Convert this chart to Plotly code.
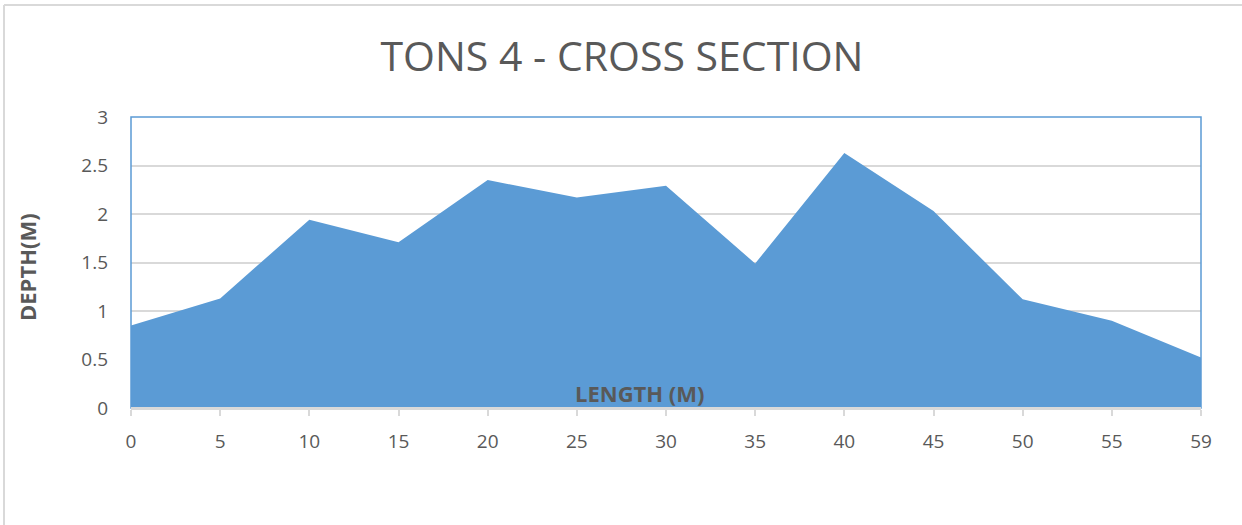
import plotly.graph_objects as go

categories = ["0", "5", "10", "15", "20", "25", "30", "35", "40", "45", "50", "55", "59"]
depth = [0.85, 1.13, 1.94, 1.71, 2.35, 2.17, 2.29, 1.49, 2.63, 2.03, 1.12, 0.90, 0.52]
y_ticks = [0, 0.5, 1, 1.5, 2, 2.5, 3]
y_tick_text = ["0", "0.5", "1", "1.5", "2", "2.5", "3"]

FILL = "#5b9bd5"
GRID = "#d9d9d9"
TXT = "#595959"
FONT = "Open Sans"

x_idx = list(range(len(categories)))

PW = 1070.0
PH = 291.0

fig = go.Figure()
fig.add_trace(go.Scatter(
    x=x_idx, y=depth, mode="lines", fill="tozeroy",
    fillcolor=FILL, line=dict(width=0, color=FILL), hoverinfo="skip",
    showlegend=False,
))

fig.update_layout(
    width=1242, height=525,
    margin=dict(l=131, r=41, t=117, b=117),
    paper_bgcolor="white", plot_bgcolor="white",
    font=dict(family=FONT, color=TXT),
    title=dict(text="TONS 4 - CROSS SECTION", x=(622 - 131) / PW, xref="paper",
               xanchor="center", y=1 - 57 / 525, yanchor="middle",
               font=dict(family=FONT, size=41, color=TXT)),
    xaxis=dict(
        range=[0, len(categories) - 1], tickvals=x_idx, ticktext=categories,
        showgrid=False, zeroline=False,
        showline=True, linecolor=GRID, linewidth=2,
        ticks="outside", ticklen=6, tickcolor=GRID, tickwidth=2,
        tickfont=dict(family=FONT, size=19, color=TXT),
        ticklabelstandoff=9,
    ),
    yaxis=dict(
        range=[0, 3], tickvals=y_ticks, ticktext=y_tick_text,
        showgrid=True, gridcolor=GRID, gridwidth=2,
        zeroline=False, showline=False, ticks="",
        tickfont=dict(family=FONT, size=19, color=TXT),
        ticklabelstandoff=22,
    ),
    shapes=[
        dict(type="rect", xref="paper", yref="paper", x0=0, x1=1, y0=0, y1=1,
             line=dict(color=FILL, width=1.5), layer="above"),
        dict(type="line", xref="paper", yref="paper", x0=0, x1=1, y0=0, y1=0,
             line=dict(color=GRID, width=2), layer="above"),
        dict(type="line", xref="paper", yref="paper",
             x0=-127 / PW, x1=(1250 - 131) / PW, y0=1 + 112 / PH, y1=1 + 112 / PH,
             line=dict(color=GRID, width=2)),
        dict(type="line", xref="paper", yref="paper",
             x0=-127 / PW, x1=-127 / PW, y0=-1, y1=1 + 112 / PH,
             line=dict(color=GRID, width=2)),
    ],
    annotations=[
        dict(text="<b>LENGTH (M)</b>", xref="paper", yref="paper",
             x=(640 - 131) / PW, y=(408 - 393) / PH, xanchor="center", yanchor="middle",
             showarrow=False, font=dict(family=FONT, size=22, color=TXT)),
        dict(text="<b>DEPTH(M)</b>", xref="paper", yref="paper",
             x=(27 - 131) / PW, y=(408 - 267) / PH, xanchor="center", yanchor="middle",
             textangle=-90, showarrow=False, font=dict(family=FONT, size=22, color=TXT)),
    ],
)

fig.write_html("out.html")
